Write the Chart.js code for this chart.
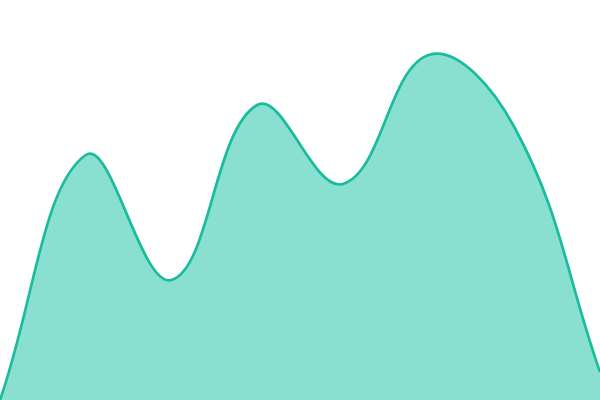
<!DOCTYPE html>
<html><head><meta charset="utf-8">
<script src="https://cdn.jsdelivr.net/npm/chart.js@4/dist/chart.umd.min.js"></script>
<style>html,body{margin:0;padding:0;background:#fff}#wrap{width:600px;height:400px}</style>
</head><body><div id="wrap"><canvas id="c"></canvas></div>
<script>
const labels = ["1","2","3","4","5","6","7","8"];
const values = [0, 245, 120, 295, 216, 345, 273, 28];
new Chart(document.getElementById('c'), {
  type: 'line',
  data: { labels: labels, datasets: [{ data: values, borderColor: '#1abc9c', backgroundColor: 'rgba(20,194,162,0.5)', borderWidth: 2.7, fill: 'origin', tension: 0.4, pointRadius: 0 }] },
  options: {
    responsive: true, maintainAspectRatio: false, animation: false,
    layout: { padding: 0 },
    plugins: { legend: { display: false }, tooltip: { enabled: false } },
    scales: { x: { display: false }, y: { display: false, min: 0, max: 400 } }
  }
});
</script></body></html>
